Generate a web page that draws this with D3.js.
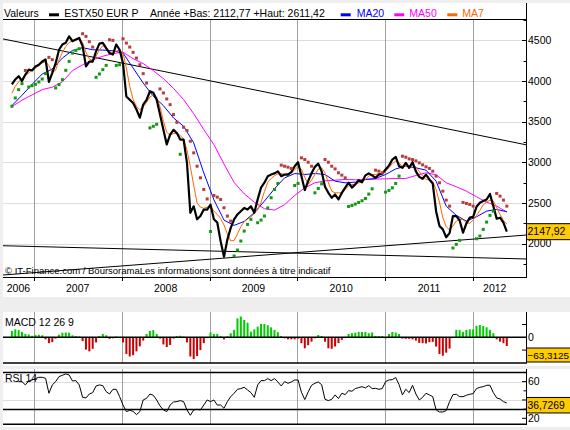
<!DOCTYPE html>
<html>
<head>
<meta charset="utf-8">
<script src="https://cdn.jsdelivr.net/npm/d3@7"></script>
<style>
  body { margin: 0; background: #eeeeee; }
  svg { display: block; font-family: "Liberation Sans", Arial, sans-serif; }
</style>
</head>
<body>
<svg width="570" height="430"></svg>
<script>
// One point every 2 weeks, starting here
var startDate = new Date(2006, 9, 2);

var closes = [3960, 4020, 4060, 4000, 4080, 4140, 4130, 4180, 4200, 4240,
  4265, 3990, 4100, 4220, 4385, 4450, 4470, 4550, 4490, 4510,
  4530, 4430, 4180, 4240, 4240, 4365, 4460, 4470, 4405, 4345,
  4325, 4450, 4385, 4220, 3810, 3770, 3730, 3650, 3550, 3710,
  3770, 3875, 3855, 3770, 3590, 3400, 3220, 3340, 3400, 3360,
  3280, 3280, 2995, 2380, 2460, 2300, 2340, 2420, 2420, 2480,
  2300, 2260, 2030, 1840, 2050, 2195, 2300, 2360, 2400, 2440,
  2420, 2460, 2380, 2545, 2690, 2750, 2830, 2850, 2865, 2890,
  2830, 2850, 2850, 2880, 2953, 3002, 2830, 2660, 2770, 2865,
  2945, 2985, 2890, 2700, 2626, 2565, 2605, 2545, 2625, 2690,
  2750, 2690, 2730, 2780, 2755, 2840, 2865, 2840, 2810, 2850,
  2860, 2912, 2960, 3035, 3068, 2953, 2933, 2994, 2933, 3002,
  2890, 2822, 2798, 2850, 2790, 2740, 2400, 2217, 2176, 2080,
  2130, 2340, 2340, 2286, 2135, 2250, 2320, 2330, 2454, 2503,
  2524, 2544, 2611, 2462, 2307, 2320, 2258, 2147.92];

// MA7 at every point
var ma7 = [3849, 3935, 3989, 4034, 4066, 4099, 4140, 4160, 4189, 4222,
  4238, 4189, 4107, 4132, 4263, 4353, 4426, 4475, 4492, 4508,
  4516, 4475, 4353, 4271, 4255, 4304, 4385, 4434, 4418, 4365,
  4345, 4369, 4377, 4345, 4160, 3935, 3772, 3690, 3649, 3682,
  3739, 3804, 3829, 3804, 3682, 3506, 3371, 3334, 3354, 3362,
  3330, 3289, 3150, 2950, 2720, 2500, 2450, 2435, 2450, 2460,
  2400, 2360, 2310, 2230, 2120, 2035, 2040, 2120, 2210, 2270,
  2300, 2330, 2370, 2420, 2510, 2640, 2757, 2802, 2835, 2859,
  2863, 2851, 2863, 2872, 2908, 2953, 2916, 2814, 2732, 2781,
  2851, 2916, 2933, 2872, 2749, 2646, 2626, 2626, 2626, 2667,
  2708, 2728, 2728, 2749, 2757, 2790, 2831, 2851, 2851, 2863,
  2863, 2892, 2933, 2986, 3015, 2990, 2953, 2953, 2953, 2962,
  2945, 2888, 2831, 2790, 2786, 2765, 2667, 2511, 2319, 2209,
  2168, 2217, 2278, 2299, 2295, 2258, 2250, 2291, 2348, 2409,
  2479, 2511, 2536, 2524, 2442, 2360, 2286, 2241];

// MA20 and MA50 read at every 3rd point
var ma20 = [3698, 3825, 3960, 4087, 4148, 4283, 4377, 4410, 4385, 4381,
  4373, 4345, 4160, 3976, 3813, 3698, 3547, 3444, 3240, 2870,
  2540, 2290, 2225, 2274, 2381, 2524, 2675, 2810, 2863, 2851,
  2863, 2851, 2769, 2749, 2757, 2790, 2802, 2851, 2920, 2953,
  2933, 2904, 2769, 2462, 2348, 2278, 2331, 2401, 2421, 2393];
var ma50 = [3686, 3765, 3830, 3895, 3925, 3990, 4128, 4200, 4260, 4305,
  4338, 4355, 4275, 4215, 4128, 4030, 3910, 3772, 3600, 3403,
  3219, 2980, 2753, 2614, 2511, 2430, 2413, 2480, 2593, 2687,
  2749, 2773, 2781, 2790, 2786, 2790, 2794, 2798, 2802, 2802,
  2839, 2872, 2847, 2749, 2700, 2646, 2577, 2511, 2462, 2389];

// Parabolic SAR runs: [first point index, values]
var sarUp = [
  [0, [3690, 3792, 3894, 3968]],
  [5, [3927, 3943, 3960, 3989, 4025, 4091]],
  [13, [3915, 3956, 4017, 4132, 4242, 4344, 4377, 4398]],
  [25, [4046, 4087, 4140, 4193]],
  [31, [4193, 4201]],
  [41, [3424, 3444, 3469]],
  [50, [3100]],
  [59, [2150]],
  [66, [1849, 1922, 2033, 2155, 2237, 2299]],
  [73, [2258, 2290, 2340, 2440, 2565, 2667, 2741]],
  [84, [2716, 2741]],
  [90, [2626, 2679, 2736]],
  [100, [2458, 2470, 2487, 2507, 2528, 2556, 2610, 2675]],
  [111, [2634, 2655, 2687, 2741, 2831]],
  [131, [1947, 1992, 2041]],
  [138, [2061, 2094, 2176, 2266, 2348, 2400]]
];
var sarDown = [
  [4, [4130]],
  [11, [4291, 4263]],
  [21, [4582, 4549, 4484, 4418]],
  [29, [4508, 4500]],
  [33, [4520, 4467, 4418, 4353, 4283, 4201, 4091, 3976]],
  [44, [3903, 3854, 3780, 3710, 3588, 3493]],
  [51, [3432, 3391, 3260, 3117, 2953, 2810, 2667, 2550]],
  [60, [2593, 2573, 2544, 2442, 2340, 2278]],
  [80, [2966, 2953, 2941, 2925]],
  [86, [3056, 3035, 3002, 2953]],
  [93, [3035, 3002, 2953, 2920, 2872, 2843, 2810]],
  [108, [2904, 2892, 2872]],
  [116, [3076, 3064, 3043, 3035, 3019, 2994, 2970, 2945, 2925, 2892, 2831, 2749, 2646, 2536, 2462]],
  [134, [2507, 2495, 2483, 2462]],
  [144, [2618, 2585, 2536, 2462]]
];

var macd = [25, 31, 28, 21, 13, 11, 6, 9, 10, 8,
  -8, -23, -19, -5, 10, 18, 19, 18, 8, 5,
  3, -15, -48, -55, -45, -20, 5, 13, 8, -6,
  -4, 3, -2, -20, -65, -75, -70, -55, -35, -13,
  13, 25, 28, 13, -5, -28, -38, -30, -5, 5,
  6, 3, -20, -75, -85, -73, -50, -23, -3, 19,
  13, 13, 5, -8, 4, 16, 29, 74, 81, 68,
  57, 22, 31, 42, 52, 52, 47, 39, 29, 20,
  5, -4, -8, -8, -8, -5, -23, -43, -31, -17,
  -4, 9, 5, -17, -43, -45, -36, -23, -10, -2,
  13, 16, 18, 21, 21, 21, 16, 19, 5, 5,
  5, -4, 13, 21, 19, 13, -5, -6, -6, -8,
  -13, -22, -23, -24, -19, -18, -36, -65, -72, -60,
  -44, -3, 29, 28, 21, 29, 31, 31, 45, 48,
  44, 39, 29, 16, -8, -17, -23, -34];

var rsi = [null, null, 60, 60, 56.4, 60.7, 61.8, 63.3, 64.7, 64.7,
  63.6, 47.3, 56.4, 60, 65.5, 66.9, 68.4, 67.3, 60.7, 61.1,
  56.4, 42.9, 42.2, 46.5, 48, 55.3, 56.4, 55.6, 49.1, 46.5,
  51.6, 51.6, 43.6, 34.5, 27.3, 28.7, 27.6, 24, 27.3, 40,
  41.8, 46.5, 45.1, 40, 33.5, 29.1, 27.3, 34.5, 37.8, 38.2,
  39.3, 38.2, 29.1, 23.3, 29.1, 29.8, 29.1, 34.5, 40, 38.2,
  40, 34.5, 34.5, 30.9, 38.2, 43.6, 47.3, 51.6, 52.4, 53.8,
  50.9, 48, 42.9, 56.4, 61.1, 61.1, 63.3, 61.1, 63.3, 59.6,
  55.3, 60, 58.2, 59.6, 61.8, 61.8, 48.4, 40.4, 48.7, 56,
  58.2, 59.6, 56.7, 40.7, 39.3, 40.7, 45.5, 41.5, 47.3, 45.8,
  50.2, 49.5, 52.4, 53.5, 54.5, 53.1, 55.6, 52.4, 52.7, 51.6,
  52.4, 60, 61.8, 62.2, 64.4, 56.7, 45.5, 51.6, 48, 56,
  46.5, 40, 42.9, 47.3, 45.5, 43.6, 29.1, 26.9, 26.9, 28.4,
  38.2, 45.8, 46.2, 43.6, 43.6, 45.1, 46.2, 46.9, 52.4, 53.8,
  54.5, 56, 56, 48, 42.2, 41.1, 38.2, 36.7269];

// trend lines: value at left edge, value at right edge
var trendLines = [[4518, 3214], [1975, 1812], [1615, 2107]];

var years = [2006, 2007, 2008, 2009, 2010, 2011, 2012];
var priceTicks = [2000, 2500, 3000, 3500, 4000, 4500];
var rsiLabels = [20, 60];
var lastMacd = -63.3125;
var yearLow = 2112.77, yearHigh = 2611.42;

// ---------------------------------------------------------------
var svg = d3.select("svg");
var comma = function(v, p) { return d3.format("." + p + "f")(v).replace(".", ","); };
function dateAt(i) { return d3.timeDay.offset(startDate, 14 * i); }

var x0 = 3, x1 = 527;
var x = d3.scaleTime()
  .domain([new Date(2006, 7, 26), new Date(2012, 7, 13)])
  .range([x0, x1]);
var y = d3.scaleLinear().domain([2000, 4500]).range([243.7, 40.4]);
var yM = d3.scaleLinear().domain([-50, 50]).range([350.1, 324.5]);
var yR = d3.scaleLinear().domain([20, 70]).range([418.3, 372.45]);

// white panels
[[3, 294], [312, 54], [369, 58]].forEach(function(p) {
  svg.append("rect").attr("x", 3).attr("y", p[0]).attr("width", 567).attr("height", p[1]).attr("fill", "#fff");
});

svg.append("clipPath").attr("id", "clipMain")
  .append("rect").attr("x", x0).attr("y", 19.5).attr("width", 523.5).attr("height", 258);

// header legend
var head = svg.append("g").attr("font-size", "10.5px");
function headText(tx, t, c) { head.append("text").attr("x", tx).attr("y", 17.3).attr("fill", c).text(t); }
function swatch(sx, c) { head.append("rect").attr("x", sx).attr("y", 13.3).attr("width", 10).attr("height", 3).attr("fill", c); }
headText(4, "Valeurs", "#000");
swatch(49, "#000");
headText(64.3, "ESTX50 EUR P", "#000");
headText(150, "Année +Bas: " + comma(yearLow, 2) + " +Haut: " + comma(yearHigh, 2), "#000");
swatch(340.7, "#0000ff"); headText(356.7, "MA20", "#0000ff");
swatch(394.3, "#ff00ff"); headText(409.3, "MA50", "#ff00ff");
swatch(447.3, "#ff6600"); headText(462.3, "MA7", "#ff6600");

// grid
var grid = svg.append("g");
priceTicks.forEach(function(v) {
  grid.append("line").attr("x1", x0).attr("x2", 526).attr("y1", Math.round(y(v)) + 0.5).attr("y2", Math.round(y(v)) + 0.5)
    .attr("stroke", "#dcdcdc");
});
[40, 60].forEach(function(v) {
  grid.append("line").attr("x1", x0).attr("x2", 526).attr("y1", Math.round(yR(v)) + 0.5).attr("y2", Math.round(yR(v)) + 0.5)
    .attr("stroke", "#dcdcdc");
});
years.slice(1).forEach(function(yr) {
  var gx = Math.round(x(new Date(yr, 0, 1))) + 0.5;
  [[19.5, 281], [312, 363], [369, 424]].forEach(function(s) {
    grid.append("line").attr("x1", gx).attr("x2", gx).attr("y1", s[0]).attr("y2", s[1]).attr("stroke", "#a0a0a0");
  });
});

// copyright
svg.append("text").attr("x", 5).attr("y", 273.5).attr("font-size", "9.5px")
  .text("© IT-Finance.com / BoursoramaLes informations sont données à titre indicatif");

var plot = svg.append("g").attr("clip-path", "url(#clipMain)");

// trend lines
trendLines.forEach(function(t) {
  plot.append("line").attr("x1", x0).attr("x2", x1).attr("y1", y(t[0])).attr("y2", y(t[1]))
    .attr("stroke", "#000").attr("stroke-width", 1);
});

function drawLine(g, pts, scale, color, w) {
  var line = d3.line()
    .defined(function(d) { return d.v != null; })
    .x(function(d) { return x(dateAt(d.i)); })
    .y(function(d) { return scale(d.v); });
  g.append("path").datum(pts).attr("d", line).attr("fill", "none")
    .attr("stroke", color).attr("stroke-width", w).attr("stroke-linejoin", "round");
}
function every(arr, step) { return arr.map(function(v, j) { return { i: j * step, v: v }; }); }

drawLine(plot, every(ma50, 3), y, "#ff00ff", 1);
drawLine(plot, every(ma20, 3), y, "#0000ff", 1);
drawLine(plot, every(ma7, 1), y, "#ff6600", 1);
drawLine(plot, every(closes, 1), y, "#000", 2.2);

// parabolic SAR dots
function drawSar(runs, color) {
  runs.forEach(function(r) {
    r[1].forEach(function(v, j) {
      plot.append("rect").attr("x", x(dateAt(r[0] + j)) - 1.5).attr("y", y(v) - 1.5)
        .attr("width", 3).attr("height", 3).attr("fill", color);
    });
  });
}
drawSar(sarDown, "#b83c3c");
drawSar(sarUp, "#119911");

// main frame and right axis
var axis = svg.append("g").attr("stroke", "#000");
axis.append("line").attr("x1", x0).attr("x2", x1).attr("y1", 19.5).attr("y2", 19.5);
axis.append("line").attr("x1", x0).attr("x2", x1).attr("y1", 277.5).attr("y2", 277.5);
axis.append("line").attr("x1", 526.5).attr("x2", 526.5).attr("y1", 3).attr("y2", 278);
d3.range(1750, 4751, 250).forEach(function(v) {
  var ty = Math.round(y(v)) + 0.5;
  axis.append("line").attr("x1", v % 500 ? 523.5 : 522).attr("x2", 526).attr("y1", ty).attr("y2", ty);
});
years.slice(1).forEach(function(yr) {
  var gx = Math.round(x(new Date(yr, 0, 1))) + 0.5;
  axis.append("line").attr("x1", gx).attr("x2", gx).attr("y1", 277.5).attr("y2", 281);
});

var labels = svg.append("g").attr("font-size", "10.5px");
priceTicks.forEach(function(v) {
  labels.append("text").attr("x", 528).attr("y", y(v)).attr("dy", "0.35em").text(v);
});
var labelEnd = new Date(2012, 6, 1);
years.forEach(function(yr) {
  var a = Math.max(x(new Date(yr, 0, 1)), x0);
  var b = Math.min(x(new Date(yr + 1, 0, 1)), x(labelEnd));
  labels.append("text").attr("x", (a + b) / 2).attr("y", 292.3).attr("text-anchor", "middle").text(yr);
});

// MACD panel
var mg = svg.append("g");
macd.forEach(function(v, i) {
  var bx = x(dateAt(i));
  mg.append("rect").attr("x", bx - 1).attr("width", 2)
    .attr("y", Math.min(yM(v), yM(0))).attr("height", Math.abs(yM(v) - yM(0)))
    .attr("fill", v >= 0 ? "#00cc00" : "#cc0000");
});
mg.append("line").attr("x1", x0).attr("x2", 526).attr("y1", yM(0)).attr("y2", yM(0)).attr("stroke", "#000").attr("stroke-width", 1.4);
mg.append("line").attr("x1", x0).attr("x2", x1).attr("y1", 363).attr("y2", 363).attr("stroke", "#000").attr("stroke-width", 1.4);
mg.append("line").attr("x1", 526.5).attr("x2", 526.5).attr("y1", 312).attr("y2", 363).attr("stroke", "#000");
[-50, 50].forEach(function(v) {
  mg.append("line").attr("x1", 522).attr("x2", 526).attr("y1", yM(v)).attr("y2", yM(v)).attr("stroke", "#000");
});
mg.append("text").attr("x", 528).attr("y", yM(0)).attr("dy", "0.35em").attr("font-size", "10.5px").text("0");
mg.append("text").attr("x", 5).attr("y", 326).attr("font-size", "10.5px").text("MACD 12 26 9");

// RSI panel
var rg = svg.append("g");
drawLine(rg, every(rsi, 1), yR, "#000", 1);
[30, 70].forEach(function(v) {
  rg.append("line").attr("x1", x0).attr("x2", 526).attr("y1", Math.round(yR(v)) + 0.5).attr("y2", Math.round(yR(v)) + 0.5)
    .attr("stroke", "#000").attr("stroke-width", 1.4);
});
rg.append("line").attr("x1", x0).attr("x2", x1).attr("y1", 424.3).attr("y2", 424.3).attr("stroke", "#000").attr("stroke-width", 1.4);
rg.append("line").attr("x1", 526.5).attr("x2", 526.5).attr("y1", 369).attr("y2", 424.3).attr("stroke", "#000");
d3.range(20, 71, 10).forEach(function(v) {
  rg.append("line").attr("x1", v % 20 ? 523.5 : 522).attr("x2", 526).attr("y1", yR(v)).attr("y2", yR(v)).attr("stroke", "#000");
});
rsiLabels.forEach(function(v) {
  rg.append("text").attr("x", 528).attr("y", yR(v)).attr("dy", "0.35em").attr("font-size", "10.5px").text(v);
});
rg.append("text").attr("x", 5).attr("y", 382.3).attr("font-size", "10.5px").text("RSI 14");

// last value boxes
function valueBox(top, h, txt, size) {
  svg.append("rect").attr("x", 526.5).attr("y", top).attr("width", 45).attr("height", h)
    .attr("fill", "#ffcc00").attr("stroke", "#000");
  svg.append("text").attr("x", 527.5).attr("y", top + h / 2).attr("dy", "0.36em").attr("font-size", size).text(txt);
}
var lastRsi = rsi[rsi.length - 1];
valueBox(y(closes[closes.length - 1]) - 8, 16, comma(closes[closes.length - 1], 2), "10.5px");
valueBox(yM(lastMacd) - 5.5, 14, comma(lastMacd, 4), "9.9px");
valueBox(yR(lastRsi) - 5.5, 15.5, comma(lastRsi, 4), "10.3px");
</script>
</body>
</html>
